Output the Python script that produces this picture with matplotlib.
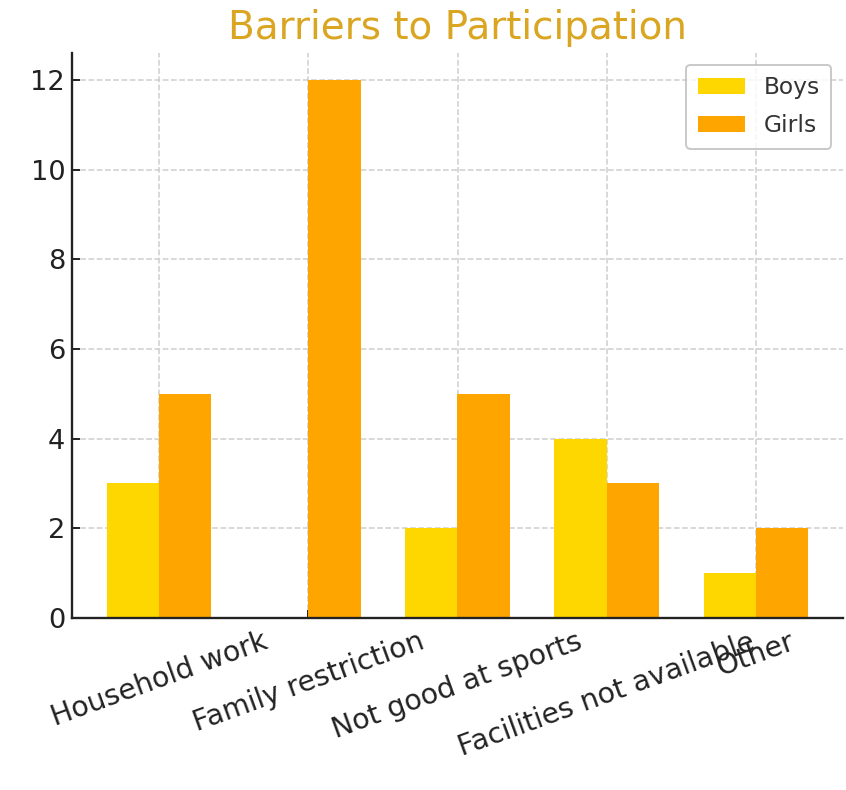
import matplotlib
matplotlib.use("Agg")
import matplotlib.pyplot as plt
import numpy as np

categories = ["Household work", "Family restriction", "Not good at sports",
              "Facilities not available", "Other"]
boys = [3, 0, 2, 4, 1]
girls = [5, 12, 5, 3, 2]

DPI = 140
fig = plt.figure(figsize=(846 / DPI, 790 / DPI), dpi=DPI)
ax = fig.add_axes([72 / 846, 1 - 618 / 790, (843 - 72) / 846, (618 - 53) / 790])

x = np.arange(len(categories))
w = 0.35
ax.bar(x - w / 2, boys, w, color="#FFD700", label="Boys")
ax.bar(x + w / 2, girls, w, color="#FFA500", label="Girls")

ax.set_axisbelow(True)
ax.grid(True, linestyle="--", color="#cfcfcf", linewidth=0.8)
for s in ["top", "right"]:
    ax.spines[s].set_visible(False)
for s in ["left", "bottom"]:
    ax.spines[s].set_linewidth(1.2)
    ax.spines[s].set_color("#222222")

ax.set_xticks(x)
ax.set_xticklabels(categories, rotation=20, ha="center", fontsize=14.6, color="#222222")
ax.tick_params(axis="both", direction="in", length=4, width=1.0, colors="#222222")
ax.tick_params(axis="y", labelsize=14)
ax.tick_params(axis="x", pad=5)
ax.set_yticks([0, 2, 4, 6, 8, 10, 12])

ax.set_title("Barriers to Participation", fontsize=20, color="#DAA520", pad=7)
leg = ax.legend(loc="upper right", fontsize=12, frameon=True, edgecolor="#bbbbbb",
                labelspacing=0.65, borderpad=0.5)
for t in leg.get_texts():
    t.set_color("#333333")

fig.savefig("out.png", dpi=DPI)
